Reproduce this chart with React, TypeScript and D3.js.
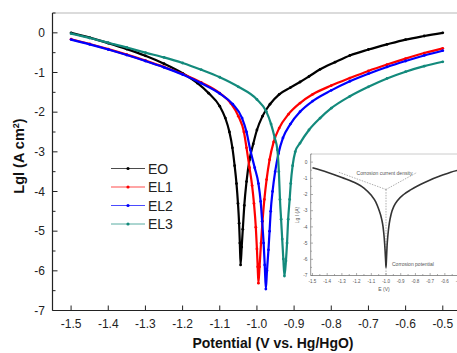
import * as d3 from 'd3';

type Pt = [number, number];

// [potential (V vs. Hg/HgO), lg I]
const seriesNames = ['EO', 'EL1', 'EL2', 'EL3'];
const seriesColors = ['#000000', '#ff0000', '#0000ff', '#138a7c'];

const eo: Pt[] = [
  [-1.5, 0.0], [-1.45, -0.12], [-1.4, -0.26], [-1.35, -0.41], [-1.3, -0.58], [-1.25, -0.78],
  [-1.2, -1.02], [-1.16, -1.27], [-1.13, -1.52], [-1.1, -1.85], [-1.085, -2.15], [-1.074, -2.5],
  [-1.066, -2.9], [-1.06, -3.35], [-1.055, -3.8], [-1.051, -4.3], [-1.048, -4.8], [-1.046, -5.3],
  [-1.044, -5.85], [-1.041, -5.4], [-1.038, -4.95], [-1.034, -4.35], [-1.028, -3.75], [-1.02, -3.2],
  [-1.01, -2.8], [-1.0, -2.45], [-0.985, -2.1], [-0.965, -1.8], [-0.94, -1.55], [-0.91, -1.38],
  [-0.884, -1.24], [-0.86, -1.1], [-0.83, -0.92], [-0.79, -0.74], [-0.75, -0.57], [-0.7, -0.42],
  [-0.65, -0.29], [-0.6, -0.17], [-0.55, -0.08], [-0.5, 0.0],
];

const el1: Pt[] = [
  [-1.5, -0.16], [-1.45, -0.28], [-1.4, -0.41], [-1.35, -0.55], [-1.3, -0.7], [-1.25, -0.86],
  [-1.2, -1.04], [-1.15, -1.25], [-1.1, -1.52], [-1.07, -1.78], [-1.05, -2.1], [-1.035, -2.5],
  [-1.028, -2.9], [-1.02, -3.4], [-1.013, -3.85], [-1.008, -4.3], [-1.003, -4.9], [-1.0, -5.45],
  [-0.998, -5.9], [-0.996, -6.31], [-0.993, -5.9], [-0.989, -5.3], [-0.985, -4.75], [-0.98, -4.2],
  [-0.974, -3.7], [-0.966, -3.2], [-0.955, -2.75], [-0.94, -2.4], [-0.915, -2.05], [-0.884, -1.77],
  [-0.85, -1.55], [-0.8, -1.33], [-0.75, -1.14], [-0.7, -0.96], [-0.65, -0.8], [-0.6, -0.65],
  [-0.55, -0.51], [-0.5, -0.39],
];

const el2: Pt[] = [
  [-1.5, -0.17], [-1.45, -0.29], [-1.4, -0.42], [-1.35, -0.56], [-1.3, -0.71], [-1.25, -0.87],
  [-1.2, -1.05], [-1.15, -1.27], [-1.1, -1.53], [-1.065, -1.8], [-1.04, -2.15], [-1.028, -2.5],
  [-1.018, -2.95], [-1.006, -3.4], [-0.996, -3.8], [-0.99, -4.25], [-0.986, -4.75], [-0.982, -5.3],
  [-0.979, -5.85], [-0.976, -6.46], [-0.973, -6.0], [-0.969, -5.47], [-0.966, -5.0], [-0.963, -4.5],
  [-0.958, -4.0], [-0.951, -3.5], [-0.942, -3.04], [-0.93, -2.65], [-0.91, -2.3], [-0.884, -1.99],
  [-0.85, -1.72], [-0.8, -1.45], [-0.75, -1.22], [-0.7, -1.03], [-0.65, -0.86], [-0.6, -0.71],
  [-0.55, -0.57], [-0.5, -0.45],
];

const el3: Pt[] = [
  [-1.5, -0.02], [-1.45, -0.13], [-1.4, -0.25], [-1.35, -0.37], [-1.3, -0.5], [-1.25, -0.62],
  [-1.2, -0.76], [-1.15, -0.93], [-1.1, -1.12], [-1.05, -1.36], [-1.0, -1.68], [-0.975, -1.98],
  [-0.962, -2.3], [-0.952, -2.65], [-0.945, -2.95], [-0.941, -3.5], [-0.938, -4.2], [-0.935, -4.7],
  [-0.932, -5.2], [-0.929, -5.7], [-0.926, -6.13], [-0.922, -5.75], [-0.919, -5.3], [-0.916, -4.7],
  [-0.912, -4.2], [-0.909, -3.8], [-0.904, -3.35], [-0.897, -3.0], [-0.884, -2.78], [-0.86, -2.45],
  [-0.83, -2.15], [-0.8, -1.9], [-0.75, -1.6], [-0.7, -1.36], [-0.65, -1.15], [-0.6, -0.98],
  [-0.55, -0.84], [-0.5, -0.73],
];

const allSeries = [eo, el1, el2, el3];

const xTicks = [-1.5, -1.4, -1.3, -1.2, -1.1, -1.0, -0.9, -0.8, -0.7, -0.6, -0.5];
const yTicks = [0, -1, -2, -3, -4, -5, -6, -7];

// inset: schematic Tafel curve
const insetCurve: Pt[] = [
  [-1.5, -0.35], [-1.4, -0.62], [-1.3, -0.95], [-1.2, -1.32], [-1.15, -1.6], [-1.1, -2.05],
  [-1.07, -2.45], [-1.05, -2.9], [-1.03, -3.5], [-1.02, -4.0], [-1.012, -4.7], [-1.006, -5.5],
  [-1.002, -6.2], [-1.0, -6.5], [-0.997, -6.0], [-0.993, -5.2], [-0.987, -4.5], [-0.978, -3.8],
  [-0.965, -3.2], [-0.945, -2.7], [-0.92, -2.35], [-0.88, -2.0], [-0.83, -1.7], [-0.77, -1.4],
  [-0.7, -1.1], [-0.63, -0.85], [-0.56, -0.62], [-0.5, -0.48],
];
const insetTafelLeft: Pt[] = [[-1.32, -0.63], [-1.0, -1.69]];
const insetTafelRight: Pt[] = [[-1.0, -1.69], [-0.79, -0.64]];
const insetEcorr: Pt[] = [[-1.0, -1.69], [-1.0, -7]];
const insetXTicks = [-1.5, -1.4, -1.3, -1.2, -1.1, -1.0, -0.9, -0.8, -0.7, -0.6, -0.5];

const font = 'Arial, "Liberation Sans", sans-serif';

function Inset() {
  const x = d3.scaleLinear().domain([-1.512, -0.48]).range([310.7, 462.5]);
  const y = d3.scaleLinear().domain([-7, 0.5]).range([275.5, 154]);
  const line = d3.line<Pt>().x((d) => x(d[0])).y((d) => y(d[1])).curve(d3.curveMonotoneX);
  const seg = d3.line<Pt>().x((d) => x(d[0])).y((d) => y(d[1]));
  const minorY = d3.range(-7, 0.51, 0.5);
  const minorX = d3.range(-1.5, -0.49, 0.05);
  return (
    <g fontFamily={font} fill="#555">
      <line x1={310.7} x2={457} y1={154} y2={154} stroke="#ccc" strokeWidth={1} />
      <line x1={310.7} x2={310.7} y1={154} y2={275.5} stroke="#777" strokeWidth={0.8} />
      <line x1={310.7} x2={457} y1={275.5} y2={275.5} stroke="#777" strokeWidth={0.8} />
      {minorY.map((t) => (
        <line key={t} x1={310.7} x2={Number.isInteger(t) ? 313 : 312} y1={y(t)} y2={y(t)} stroke="#777" strokeWidth={0.6} />
      ))}
      {minorX.map((t) => (
        <line key={t} x1={x(t)} x2={x(t)} y1={275.5} y2={Math.abs(t * 10 - Math.round(t * 10)) < 1e-6 ? 273 : 274} stroke="#777" strokeWidth={0.6} />
      ))}
      {yTicks.map((t) => (
        <text key={t} x={307.5} y={y(t) + 1.7} fontSize={4.8} textAnchor="end">{t}</text>
      ))}
      {insetXTicks.map((t) => (
        <text key={t} x={x(t)} y={282.5} fontSize={4.5} textAnchor="middle">{t.toFixed(1)}</text>
      ))}
      <text x={384} y={291} fontSize={5} textAnchor="middle">E  (V)</text>
      <text transform="translate(298.5,215) rotate(-90)" fontSize={5} textAnchor="middle">Lg I (A)</text>
      <path d={seg(insetTafelLeft) ?? ''} fill="none" stroke="#777" strokeWidth={0.6} strokeDasharray="1.5 1.2" />
      <path d={seg(insetTafelRight) ?? ''} fill="none" stroke="#777" strokeWidth={0.6} strokeDasharray="1.5 1.2" />
      <path d={seg(insetEcorr) ?? ''} fill="none" stroke="#777" strokeWidth={0.6} strokeDasharray="1.5 1.2" />
      <path d={line(insetCurve) ?? ''} fill="none" stroke="#333" strokeWidth={1.6} />
      <text x={384.5} y={175} fontSize={5} textAnchor="middle">Corrosion current density</text>
      <text x={392} y={266} fontSize={5}>Corrosion potential</text>
    </g>
  );
}

export default function App() {
  const width = 457;
  const height = 353;
  const left = 52.5;
  const bottom = 310.5;
  const top = 13;
  const x = d3.scaleLinear().domain([-1.55, -0.45]).range([left, left + 371.7 * 1.1]);
  const y = d3.scaleLinear().domain([-7, 0.5]).range([bottom, top]);
  const line = d3.line<Pt>().x((d) => x(d[0])).y((d) => y(d[1])).curve(d3.curveMonotoneX);
  const halfTicks = d3.range(-7, 0.51, 0.5);

  return (
    <svg width={width} height={height} style={{ position: 'absolute', left: 0, top: 0 }}>
      <rect width={width} height={height} fill="#fff" />
      <line x1={left} x2={width} y1={top} y2={top} stroke="#cfcfcf" strokeWidth={1.5} />

      {allSeries.map((s, i) => (
        <g key={seriesNames[i]}>
          <path d={line(s) ?? ''} fill="none" stroke={seriesColors[i]} strokeWidth={2.2} />
          {s.map((d, j) => (
            <circle key={j} cx={x(d[0])} cy={y(d[1])} r={1.4} fill={seriesColors[i]} />
          ))}
        </g>
      ))}

      <Inset />

      <line x1={left} x2={left} y1={top} y2={bottom} stroke="#222" strokeWidth={1.2} />
      <line x1={left} x2={width} y1={bottom} y2={bottom} stroke="#222" strokeWidth={1.2} />
      {halfTicks.map((t) => (
        <line key={t} x1={left} x2={left + (Number.isInteger(t) ? 5 : 3)} y1={y(t)} y2={y(t)} stroke="#222" strokeWidth={1} />
      ))}
      {xTicks.map((t) => (
        <line key={t} x1={x(t)} x2={x(t)} y1={bottom} y2={bottom - 5} stroke="#222" strokeWidth={1} />
      ))}
      <g fontFamily={font} fontSize={12} fill="#222">
        {yTicks.map((t) => (
          <text key={t} x={45} y={y(t) + 4} textAnchor="end">{t}</text>
        ))}
        {xTicks.map((t) => (
          <text key={t} x={x(t)} y={328} textAnchor="middle">{t.toFixed(1)}</text>
        ))}
      </g>
      <text x={273} y={348} fontFamily={font} fontSize={14} fontWeight="bold" textAnchor="middle" fill="#111">
        Potential (V vs. Hg/HgO)
      </text>
      <text transform="translate(24,156) rotate(-90)" fontFamily={font} fontSize={14.5} fontWeight="bold" textAnchor="middle" fill="#111">
        Lgl (A cm<tspan dy={-5} fontSize={9}>2</tspan><tspan dy={5}>)</tspan>
      </text>

      <g fontFamily={font} fontSize={14} fill="#222">
        {seriesNames.map((n, i) => {
          const ly = 168.5 + i * 18.5;
          return (
            <g key={n}>
              <line x1={111} x2={145} y1={ly} y2={ly} stroke={seriesColors[i]} strokeWidth={1} opacity={0.7} />
              <circle cx={128} cy={ly} r={1.6} fill={seriesColors[i]} />
              <text x={148} y={ly + 5}>{n}</text>
            </g>
          );
        })}
      </g>
    </svg>
  );
}
